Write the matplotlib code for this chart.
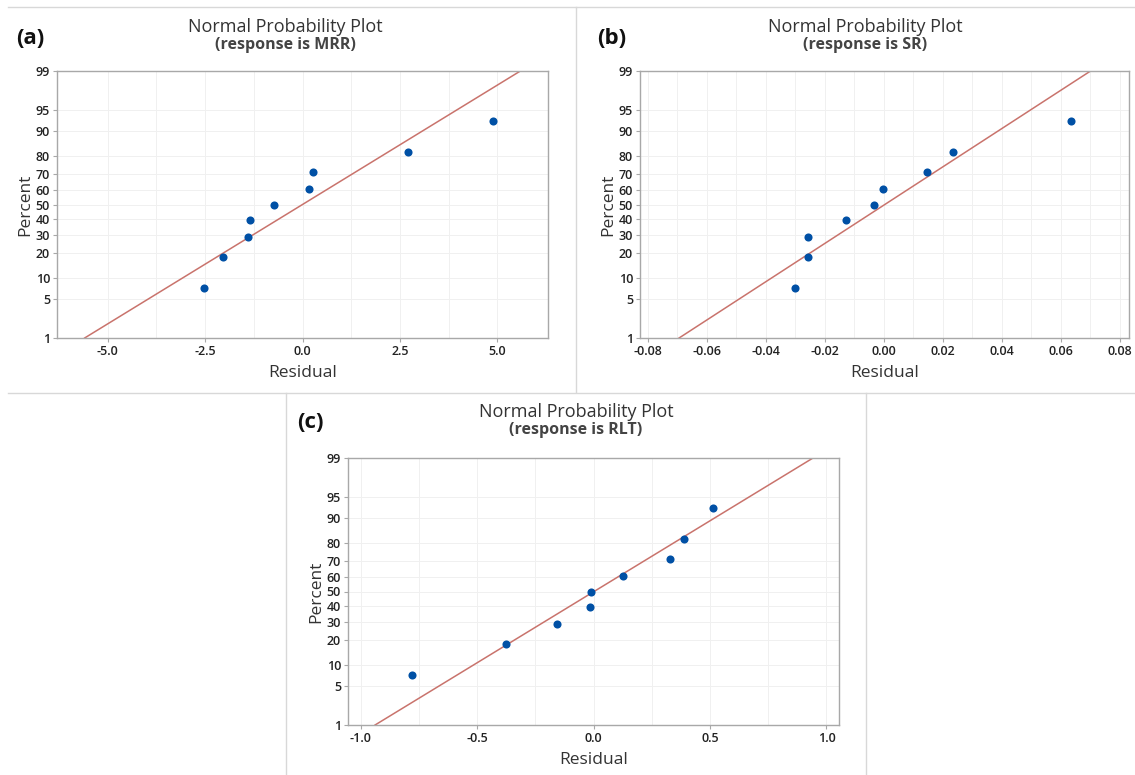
import math
import numpy as np
import matplotlib
matplotlib.use("Agg")
import matplotlib.pyplot as plt
from matplotlib.lines import Line2D
from statistics import NormalDist

plt.rcParams['font.family'] = ['Open Sans', 'DejaVu Sans']

# plotting positions (percent) shared by all three panels
percent = [7.4, 18.1, 28.7, 39.4, 50.0, 60.6, 71.3, 81.9, 92.6]

# residuals, sorted
res_mrr = [-2.52, -2.03, -1.39, -1.36, -0.74, 0.16, 0.28, 2.70, 4.90]
res_sr = [-0.0300, -0.0258, -0.0258, -0.0129, -0.0034, -0.0004, 0.0147, 0.0235, 0.0633]
res_rlt = [-0.779, -0.375, -0.156, -0.017, -0.010, 0.125, 0.330, 0.387, 0.511]

y_ticks = [1, 5, 10, 20, 30, 40, 50, 60, 70, 80, 90, 95, 99]
xt_mrr = [-5.0, -2.5, 0.0, 2.5, 5.0]
xt_sr = [-0.08, -0.06, -0.04, -0.02, 0.00, 0.02, 0.04, 0.06, 0.08]
xt_rlt = [-1.0, -0.5, 0.0, 0.5, 1.0]

W, H = 1135, 775
nd = NormalDist()

_ppf = np.vectorize(lambda v: nd.inv_cdf(v / 100.0), otypes=[float])
_cdf = np.vectorize(lambda v: 50.0 * (1 + math.erf(v / math.sqrt(2))), otypes=[float])


def fwd(p):
    p = np.clip(np.asarray(p, dtype=float), 1e-6, 100 - 1e-6)
    return _ppf(p)


def inv(z):
    return _cdf(np.asarray(z, dtype=float))


def box(l, t, r, b):
    return [l / W, 1 - b / H, (r - l) / W, (b - t) / H]


def ftext(x, y, s, **kw):
    fig.text(x / W, 1 - y / H, s, **kw)


def fline(x0, y0, x1, y1):
    fig.add_artist(Line2D([x0 / W, x1 / W], [1 - y0 / H, 1 - y1 / H],
                          transform=fig.transFigure, color='#d8d8d8', lw=1))


fig = plt.figure(figsize=(W / 100, H / 100), dpi=100)

panels = [
    (res_mrr, xt_mrr, '{:.1f}', (-6.3, 6.3), box(57, 71, 548, 338), 'MRR', '(a)', (16, 38), 285),
    (res_sr, xt_sr, '{:.2f}', (-0.0826, 0.0831), box(640, 71, 1129, 338), 'SR', '(b)', (597, 38), 865),
    (res_rlt, xt_rlt, '{:.1f}', (-1.055, 1.054), box(348, 458, 839, 725), 'RLT', '(c)', (297, 423), 576),
]

for res, xt, fmt, xlim, rect, resp, tag, tagpos, tcx in panels:
    ax = fig.add_axes(rect)
    ax.set_yscale('function', functions=(fwd, inv))
    ax.set_ylim(1, 99)
    ax.set_xlim(*xlim)

    # fitted normal line from mean and std of the residuals
    mean = np.mean(res)
    sd = np.std(res, ddof=1)
    zl = fwd([1, 99])
    ax.plot(mean + sd * zl, [1, 99], color='#c9736c', lw=1.1, zorder=2)
    ax.scatter(res, percent, s=34, color='#0050a5', zorder=3, linewidths=0)

    ax.set_yticks(y_ticks)
    ax.set_yticklabels([str(v) for v in y_ticks])
    ax.set_yticks([], minor=True)
    ax.set_xticks(xt)
    ax.set_xticklabels([fmt.format(v) for v in xt])
    step = xt[1] - xt[0]
    ax.set_xticks([v + step / 2 for v in xt[:-1]], minor=True)
    ax.grid(True, which='both', color='#f0f0f0', lw=0.7)
    ax.set_axisbelow(True)
    for sp in ax.spines.values():
        sp.set_color('#a8a8a8')
        sp.set_linewidth(1.0)
    ax.tick_params(which='major', length=3, width=0.8, color='#a8a8a8',
                   labelsize=9, labelcolor='#222222', pad=2)
    ax.tick_params(which='minor', length=0)
    for lab in ax.get_xticklabels() + ax.get_yticklabels():
        lab.set_fontweight('semibold')
    ax.set_xlabel('Residual', fontsize=12.5, color='#333333', labelpad=5)
    ax.set_ylabel('Percent', fontsize=12.5, color='#333333', labelpad=2)

    ftext(tcx, tagpos[1] - 11, 'Normal Probability Plot', ha='center', va='center',
          fontsize=13, color='#333333')
    ftext(tcx, tagpos[1] + 7, '(response is %s)' % resp, ha='center', va='center',
          fontsize=11.5, fontweight='bold', color='#444444')
    ftext(tagpos[0], tagpos[1], tag, ha='left', va='center', fontsize=16,
          fontweight='bold', color='#111111')

# panel separators
fline(8, 6.5, W, 6.5)
fline(576, 6.5, 576, 392)
fline(8, 392.5, W, 392.5)
fline(286, 392.5, 286, H)
fline(866, 392.5, 866, H)

fig.savefig('out.png', dpi=100, facecolor='white')
